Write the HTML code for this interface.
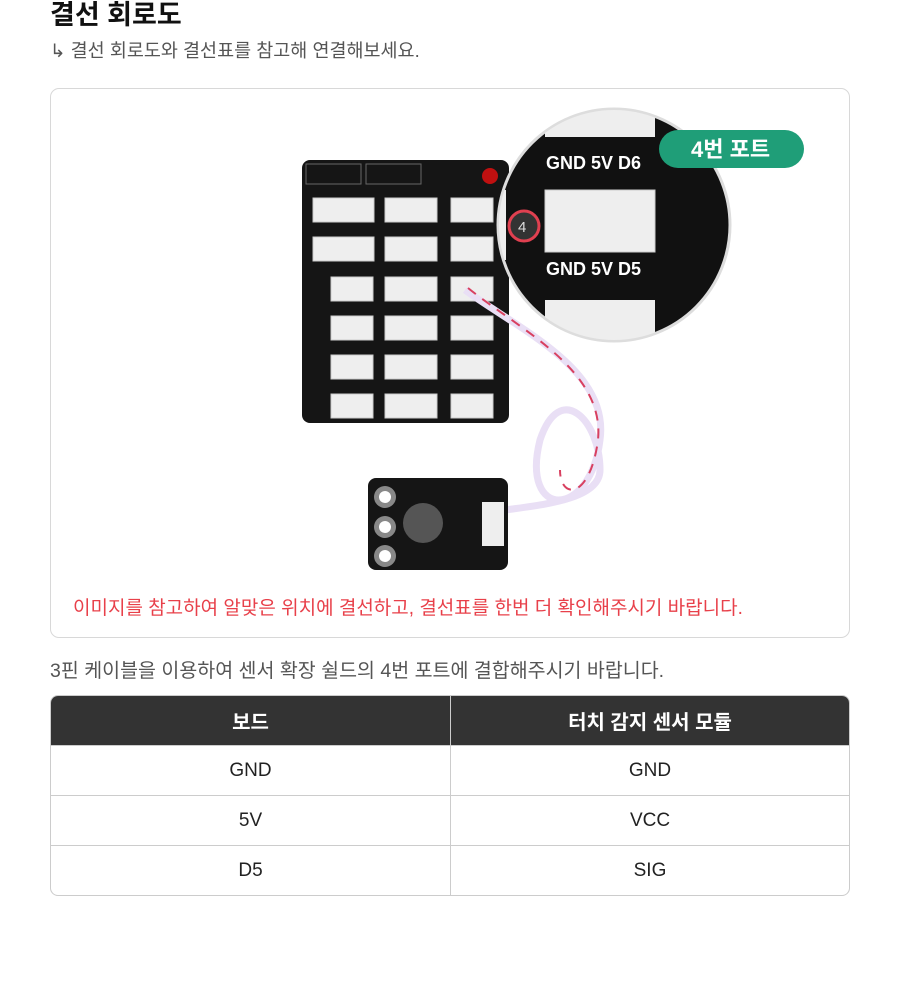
<!DOCTYPE html>
<html><head><meta charset="utf-8"><style>
body{margin:0;width:900px;height:995px;background:#fff;font-family:"Liberation Sans","Noto Sans CJK KR",sans-serif;position:relative;overflow:hidden}
.t{position:absolute;left:50px;top:-7px;font-size:27px;font-weight:bold;color:#111}
.s{position:absolute;left:50px;top:37px;font-size:18.5px;color:#555}
.box{position:absolute;left:50px;top:88px;width:798px;height:548px;border:1px solid #d8d8d8;border-radius:9px}
.red{position:absolute;left:73px;top:593px;font-size:19px;color:#e8404a}
.d{position:absolute;left:50px;top:654px;font-size:19.5px;color:#555}
table{position:absolute;left:50px;top:695px;width:800px;border-collapse:separate;border-spacing:0;border:1px solid #ccc;border-radius:8px;overflow:hidden}
td,th{height:49px;text-align:center;font-size:19px;color:#222;border-bottom:1px solid #ccc;padding:0}
th{background:#333;color:#fff;font-weight:bold;font-size:20px}
tr:last-child td{border-bottom:none}
td:first-child,th:first-child{border-right:1px solid #ccc;width:399px}
</style></head><body>
<div class="t">결선 회로도</div>
<div class="s">↳ 결선 회로도와 결선표를 참고해 연결해보세요.</div>
<div class="box"></div>
<svg style="position:absolute;left:0;top:0" width="900" height="640">
<defs><clipPath id="c"><circle cx="614" cy="225" r="115"/></clipPath></defs>
<rect x="302" y="160" width="207" height="263" rx="8" fill="#151515"/>
<rect x="306" y="164" width="55" height="20" fill="none" stroke="#666"/>
<rect x="366" y="164" width="55" height="20" fill="none" stroke="#666"/>
<circle cx="490" cy="176" r="8" fill="#c01010"/>
<g fill="#eee" stroke="#ccc">
<rect x="313" y="198" width="61" height="24"/><rect x="385" y="198" width="52" height="24"/><rect x="451" y="198" width="42" height="24"/>
<rect x="313" y="237" width="61" height="24"/><rect x="385" y="237" width="52" height="24"/><rect x="451" y="237" width="42" height="24"/>
<rect x="331" y="277" width="42" height="24"/><rect x="385" y="277" width="52" height="24"/><rect x="451" y="277" width="42" height="24"/>
<rect x="331" y="316" width="42" height="24"/><rect x="385" y="316" width="52" height="24"/><rect x="451" y="316" width="42" height="24"/>
<rect x="331" y="355" width="42" height="24"/><rect x="385" y="355" width="52" height="24"/><rect x="451" y="355" width="42" height="24"/>
<rect x="331" y="394" width="42" height="24"/><rect x="385" y="394" width="52" height="24"/><rect x="451" y="394" width="42" height="24"/>
</g>
<path d="M465 290 C520 330 610 370 600 440 C590 520 520 520 540 440 C560 380 600 420 600 470 C600 500 540 505 505 510" fill="none" stroke="#e9dff5" stroke-width="7"/>
<path d="M468 288 C520 330 605 370 598 440 C590 500 560 500 560 470" fill="none" stroke="#d84060" stroke-width="2" stroke-dasharray="10 8"/>
<rect x="368" y="478" width="140" height="92" rx="8" fill="#151515"/>
<circle cx="385" cy="497" r="11" fill="#888"/><circle cx="385" cy="497" r="6" fill="#fff"/>
<circle cx="385" cy="527" r="11" fill="#888"/><circle cx="385" cy="527" r="6" fill="#fff"/>
<circle cx="385" cy="556" r="11" fill="#888"/><circle cx="385" cy="556" r="6" fill="#fff"/>
<circle cx="423" cy="523" r="20" fill="#555"/>
<rect x="482" y="502" width="22" height="44" fill="#eee"/>
<circle cx="614" cy="225" r="116" fill="#111" stroke="#ddd" stroke-width="3"/>
<g clip-path="url(#c)">
<rect x="545" y="100" width="110" height="37" fill="#eee"/>
<rect x="545" y="190" width="110" height="62" fill="#eee" stroke="#ccc"/>
<rect x="545" y="300" width="110" height="40" fill="#eee"/>
<rect x="498" y="190" width="8" height="70" fill="#eee"/>
</g>
<text x="546" y="169" fill="#fff" font-size="18" font-weight="bold">GND 5V D6</text>
<text x="546" y="275" fill="#fff" font-size="18" font-weight="bold">GND 5V D5</text>
<circle cx="524" cy="226" r="15" fill="#333" stroke="#e04050" stroke-width="3"/>
<text x="518" y="232" fill="#ddd" font-size="15">4</text>
<rect x="659" y="130" width="145" height="38" rx="19" fill="#1f9e78"/>
<text x="691" y="157" fill="#fff" font-size="22" font-weight="bold">4번 포트</text>
</svg>
<div class="red">이미지를 참고하여 알맞은 위치에 결선하고, 결선표를 한번 더 확인해주시기 바랍니다.</div>
<div class="d">3핀 케이블을 이용하여 센서 확장 쉴드의 4번 포트에 결합해주시기 바랍니다.</div>
<table>
<tr><th>보드</th><th>터치 감지 센서 모듈</th></tr>
<tr><td>GND</td><td>GND</td></tr>
<tr><td>5V</td><td>VCC</td></tr>
<tr><td>D5</td><td>SIG</td></tr>
</table>
</body></html>
